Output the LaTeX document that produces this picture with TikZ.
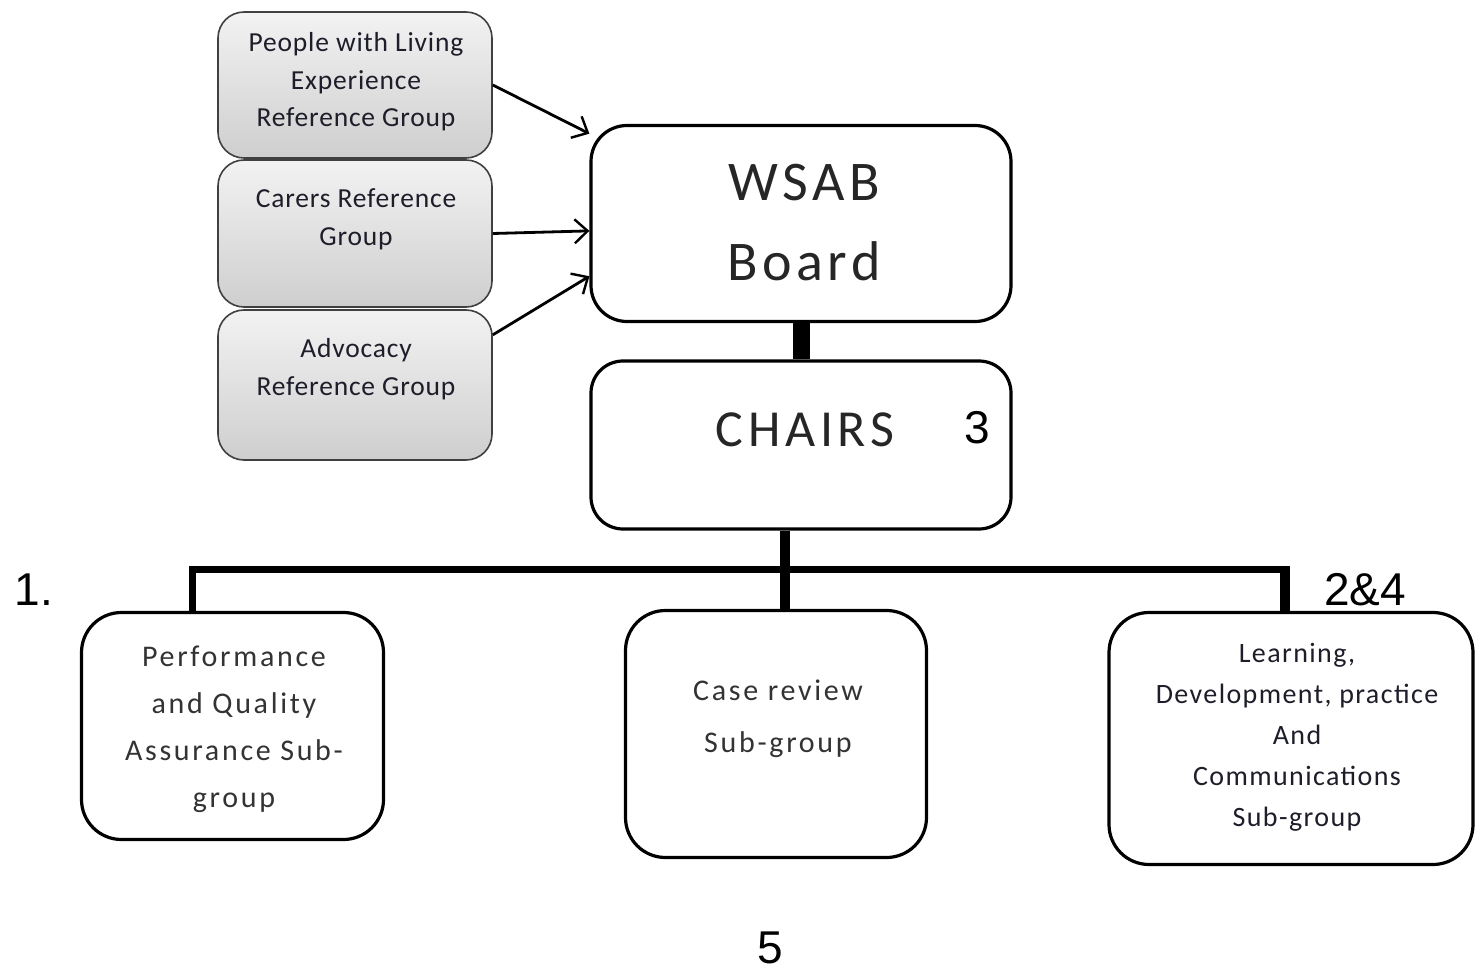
\documentclass[tikz,border=0pt]{standalone}
\usepackage{fontspec}
\setmainfont{Carlito}
\newfontfamily\arialf{Liberation Sans}
\newfontfamily\sgA[LetterSpace=3]{Carlito}
\newfontfamily\sgB[LetterSpace=8]{Carlito}
\newfontfamily\sgC[LetterSpace=9]{Carlito}
\newfontfamily\sgD[LetterSpace=9]{Carlito}
\newfontfamily\sgE[LetterSpace=5]{Carlito}
\usetikzlibrary{arrows.meta}
\definecolor{txtc}{HTML}{1E1E2A}
\tikzset{
  gbox/.style={draw=black!75, line width=1.6pt, rounded corners=26pt, top color=gray!10, bottom color=gray!38, minimum width=274pt},
  wbox/.style={draw=black, line width=3.2pt, rounded corners=36pt, fill=white},
  gtext/.style={align=center, text=txtc, font=\sgA\fontsize{27.5}{37.5}\selectfont, inner sep=0pt},
  btext/.style={align=center, text=black!80, inner sep=0pt},
  num/.style={font=\arialf\fontsize{46}{50}\selectfont, inner sep=0pt},
  arr/.style={line width=2.8pt, -{Straight Barb[length=13pt,width=24pt,line width=2.4pt]}},
}
\begin{document}
\begin{tikzpicture}[x=1pt,y=-1pt]
\useasboundingbox[fill=white] (0,0) rectangle (1476,973);
% gray reference groups
\node[gbox, minimum height=146pt] (p) at (355,85) {};
\node[gbox, minimum height=147pt] (c) at (355,233.5) {};
\node[gbox, minimum height=150pt] (a) at (355,385) {};
\node[gtext] (pt) at (356,82) {People with Living\\Experience\\Reference Group};
\node[gtext, font=\sgA\fontsize{27.5}{38}\selectfont] (ct) at (356,219) {Carers Reference\\Group};
\node[gtext, font=\sgA\fontsize{27.5}{38}\selectfont] (at) at (356,369) {Advocacy\\Reference Group};
% main boxes
\node[wbox, minimum width=420pt, minimum height=196pt] (w) at (801,223.5) {};
\node[inner sep=0pt, align=center, font=\sgB\fontsize{56}{80}\selectfont, text=black!85] (wt) at (804,223) {WSAB\\Board};
\node[wbox, minimum width=420pt, minimum height=168pt, rounded corners=32pt] (ch) at (801,445) {};
\node[inner sep=0pt, font=\sgC\fontsize{52}{52}\selectfont, text=black!85] (cht) at (805,430) {CHAIRS};
\node[num] (n3) at (977,428) {3};
% sub-groups
\node[wbox, minimum width=302pt, minimum height=227pt, rounded corners=40pt] (l) at (232.5,726) {};
\node[btext, font=\sgD\fontsize{30}{47}\selectfont] (lt) at (234,729) {Performance\\and Quality\\Assurance Sub-\\group};
\node[wbox, minimum width=301pt, minimum height=247pt, rounded corners=40pt] (m) at (776,734) {};
\node[btext, font=\sgD\fontsize{30}{52}\selectfont] (mt) at (778,719) {Case review\\Sub-group};
\node[wbox, minimum width=364pt, minimum height=252pt, rounded corners=40pt] (r) at (1291,738.5) {};
\node[gtext, font=\sgE\fontsize{28}{41}\selectfont] (rt) at (1297,737) {Learning,\\Development, practice\\And\\Communications\\Sub-group};
% numbers
\node[num] (n1) at (34,590) {1.};
\node[num] (n24) at (1365,590) {2\&4};
\node[num] (n5) at (770,948) {5};
% arrows
\draw[arr] (p.east) -- (w.157);
\draw[arr] (c.east) -- (w.182);
\draw[arr] (a.20) -- (w.194);
% tree connectors
\draw[line width=17pt] (w.south) -- (ch.north);
\coordinate (jn) at (785,569);
\coordinate (hl) at (192,569);
\coordinate (hr) at (1285,569);
\draw[line width=10pt] (ch.south -| jn) -- (m.north -| jn);
\draw[line width=7pt, line join=miter] (l.north -| hl) -- (hl) -- (hr);
\draw[line width=10pt] (hr) ++(0,-3.5) -- (r.north -| hr);
\end{tikzpicture}
\end{document}
